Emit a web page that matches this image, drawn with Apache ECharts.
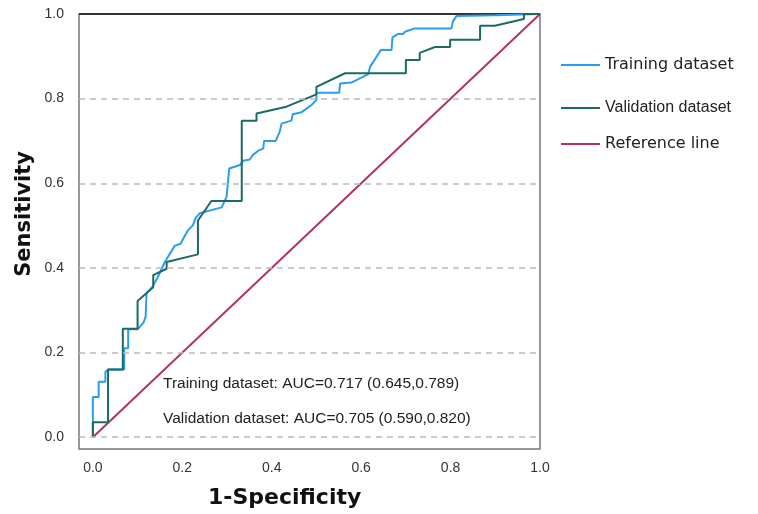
<!DOCTYPE html>
<html><head><meta charset="utf-8">
<script src="https://cdn.jsdelivr.net/npm/echarts@6/dist/echarts.min.js"></script>
<style>html,body{margin:0;padding:0;background:#fff}#c{width:758px;height:514px}</style>
</head><body><div id="c"></div>
<script>
var tickValues = [0, 0.2, 0.4, 0.6, 0.8, 1.0];
var gridValues = [0, 0.2, 0.4, 0.6, 0.8];
var trainFpr = [0,0,0.013,0.013,0.028,0.028,0.034,0.07,0.07,0.079,0.079,0.1,0.113,0.118,0.12,0.133,0.145,0.161,0.183,0.196,0.212,0.224,0.23,0.239,0.288,0.299,0.305,0.329,0.336,0.351,0.358,0.37,0.381,0.383,0.409,0.418,0.422,0.444,0.447,0.467,0.489,0.5,0.5,0.551,0.553,0.578,0.616,0.62,0.644,0.668,0.67,0.683,0.694,0.698,0.72,0.802,0.805,0.813,0.899,0.903,1];
var trainTpr = [0,0.095,0.095,0.131,0.131,0.154,0.16,0.16,0.21,0.21,0.255,0.255,0.27,0.284,0.34,0.355,0.378,0.414,0.452,0.457,0.488,0.501,0.518,0.529,0.543,0.568,0.635,0.643,0.653,0.656,0.667,0.677,0.682,0.7,0.7,0.722,0.741,0.748,0.763,0.768,0.785,0.797,0.814,0.814,0.836,0.838,0.858,0.875,0.915,0.915,0.945,0.953,0.953,0.958,0.966,0.966,0.982,0.995,0.997,1,1];
var validFpr = [0,0,0.034,0.034,0.067,0.067,0.1,0.1,0.135,0.135,0.165,0.165,0.235,0.235,0.265,0.333,0.333,0.366,0.366,0.433,0.5,0.5,0.564,0.7,0.7,0.731,0.731,0.765,0.799,0.799,0.866,0.866,0.899,0.964,0.964,1];
var validTpr = [0,0.035,0.035,0.16,0.16,0.256,0.256,0.322,0.354,0.383,0.398,0.414,0.432,0.512,0.558,0.558,0.748,0.748,0.765,0.781,0.81,0.828,0.86,0.86,0.891,0.891,0.908,0.922,0.922,0.939,0.939,0.972,0.972,0.988,1,1];
var refX = [0, 1];
var refY = [0, 1];
var names = ['Training dataset', 'Validation dataset', 'Reference line'];
var colors = ['#2a9df0', '#1b6b60', '#b3306a'];
var aucTexts = ['Training dataset: AUC=0.717 (0.645,0.789)', 'Validation dataset: AUC=0.705 (0.590,0.820)'];

function pairs(xs, ys) { return xs.map(function (x, i) { return [x, ys[i]]; }); }

var chart = echarts.init(document.getElementById('c'), null, {renderer: 'canvas'});
var legendTops = [52, 95, 131];
var legendFonts = ['DejaVu Sans', 'Liberation Sans', 'DejaVu Sans'];
chart.setOption({
  animation: false,
  grid: {left: 79, right: 218, top: 14, bottom: 65, show: true, borderColor: '#777', borderWidth: 1.5},
  xAxis: {
    type: 'value', min: -0.031, max: 1,
    axisLine: {show: false}, axisTick: {show: false}, splitLine: {show: false},
    axisLabel: {customValues: tickValues, margin: 12, fontSize: 14, color: '#333', fontFamily: 'Liberation Sans',
      formatter: function (v) { return v.toFixed(1); }}
  },
  yAxis: {
    type: 'value', min: -0.028, max: 1,
    axisLine: {show: false}, axisTick: {show: false}, splitLine: {show: false},
    axisLabel: {customValues: tickValues, margin: 15, fontSize: 14, color: '#333', fontFamily: 'Liberation Sans',
      formatter: function (v) { return v.toFixed(1); }}
  },
  legend: names.map(function (n, i) {
    return {data: [n], left: 556, top: legendTops[i], orient: 'vertical', icon: 'rect', itemWidth: 39, itemHeight: 2, itemGap: 0,
      textStyle: {fontSize: 16, color: '#222', fontFamily: legendFonts[i], padding: [0, 0, 0, 0]}};
  }),
  graphic: [
    {type: 'text', left: 163, top: 376, style: {text: aucTexts[0], fontSize: 15.5, fill: '#222', fontFamily: 'Liberation Sans'}},
    {type: 'text', left: 163, top: 411, style: {text: aucTexts[1], fontSize: 15.5, fill: '#222', fontFamily: 'Liberation Sans'}},
    {type: 'text', left: 208, top: 487, style: {text: '1-Specificity', fontSize: 22, fontWeight: 'bold', fill: '#111', fontFamily: 'DejaVu Sans'}},
    {type: 'text', left: 14, top: 151, rotation: Math.PI / 2, style: {text: 'Sensitivity', fontSize: 21, fontWeight: 'bold', fill: '#111', fontFamily: 'DejaVu Sans'}},
    {type: 'line', shape: {x1: 79, y1: 14, x2: 540, y2: 14}, style: {stroke: '#333', lineWidth: 2}}
  ],
  series: [
    {name: names[2], type: 'line', data: pairs(refX, refY), symbol: 'none', lineStyle: {color: colors[2], width: 2}, itemStyle: {color: colors[2]},
      markLine: {silent: true, symbol: 'none', label: {show: false},
        lineStyle: {color: '#bbb', type: [6, 5], width: 1.5},
        data: gridValues.map(function (v) { return [{coord: [-0.031, v]}, {coord: [1, v]}]; })}},
    {name: names[0], type: 'line', data: pairs(trainFpr, trainTpr), symbol: 'none', lineStyle: {color: colors[0], width: 2}, itemStyle: {color: colors[0]}},
    {name: names[1], type: 'line', data: pairs(validFpr, validTpr), symbol: 'none', lineStyle: {color: colors[1], width: 2}, itemStyle: {color: colors[1]}}
  ]
});
</script></body></html>
